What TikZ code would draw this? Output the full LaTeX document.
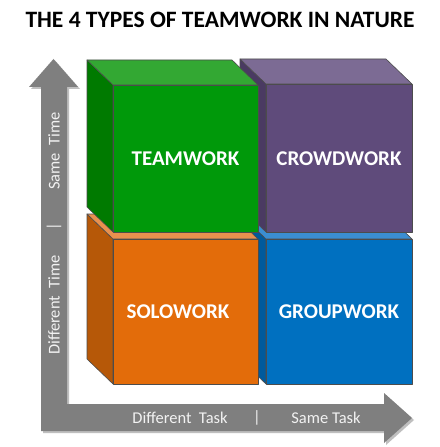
\documentclass[tikz,border=0pt]{standalone}
\usepackage{fontspec}
\setmainfont{Carlito}
\definecolor{axisgray}{HTML}{7F7F7F}
\definecolor{axistext}{HTML}{F2F2F2}
\definecolor{gfront}{HTML}{00990A}
\definecolor{gtop}{HTML}{33A833}
\definecolor{gside}{HTML}{007A00}
\definecolor{pfront}{HTML}{5F4B7B}
\definecolor{ptop}{HTML}{7C6B94}
\definecolor{pside}{HTML}{4A3A62}
\definecolor{ofront}{HTML}{E36C0A}
\definecolor{otop}{HTML}{E8914E}
\definecolor{oside}{HTML}{B65808}
\definecolor{bfront}{HTML}{0070C0}
\definecolor{btop}{HTML}{3B8ED2}
\definecolor{bside}{HTML}{005A9C}
\newcommand{\axfont}{\fontsize{16.5bp}{18bp}\selectfont}
\newcommand{\cubefont}{\fontsize{21bp}{24bp}\selectfont\bfseries}
\tikzset{
  edge/.style={draw=black!70, line width=0.6bp, line join=round},
  cubelabel/.style={text=white, font=\cubefont, inner sep=0},
  axislabel/.style={text=axistext, font=\axfont, inner sep=0},
}
\newcommand{\mycube}[7]{% x1 y1 x2 y2 front top side
  \fill[#7,edge] (#1-26,#2-25) -- (#1,#2) -- (#1,#4) -- (#1-26,#4-25) -- cycle;
  \fill[#6,edge] (#1-26,#2-25) -- (#3-26,#2-25) -- (#3,#2) -- (#1,#2) -- cycle;
  \fill[#5,edge] (#1,#2) rectangle (#3,#4);
}
\begin{document}
\begin{tikzpicture}[x=1bp,y=-1bp]
\useasboundingbox (0,0) rectangle (440,447);
\fill[white] (0,0) rectangle (440,447);
% title
\node[font=\fontsize{23.5bp}{26bp}\selectfont\bfseries, inner sep=0] (title) at (220,20) {THE 4 TYPES OF TEAMWORK IN NATURE};
% axes (L-shaped double arrow)
\fill[black!25] (43,433) -- (43,89) -- (31,89) -- (55.5,61) -- (80,89) -- (69,89) -- (69,406) -- (386,406) -- (386,395) -- (414,420) -- (386,445) -- (386,433) -- cycle;
\fill[axisgray] (41,431) -- (41,87) -- (29,87) -- (53.5,59) -- (78,87) -- (67,87) -- (67,404) -- (384,404) -- (384,393) -- (412,418) -- (384,443) -- (384,431) -- cycle;
% cubes (back to front)
\mycube{266}{239}{412}{384}{bfront}{btop}{bside}
\mycube{113}{239}{258}{384}{ofront}{otop}{oside}
\mycube{266}{84}{412}{232}{pfront}{ptop}{pside}
\mycube{113}{85}{258}{232}{gfront}{gtop}{gside}
% labels
\node[cubelabel] (team) at (185.5,158.5) {TEAMWORK};
\node[cubelabel] (crowd) at (339,158.5) {CROWDWORK};
\node[cubelabel] (solo) at (178,312) {SOLOWORK};
\node[cubelabel] (group) at (339,312) {GROUPWORK};
% axis labels
\node[axislabel, rotate=90] (stime) at (54,151) {Same\ \ Time};
\node[axislabel, rotate=90] (sep1) at (54,227) {|};
\node[axislabel, rotate=90] (dtime) at (54,305) {Different\ \ Time};
\node[axislabel] (dtask) at (180,418) {Different\ \ Task};
\node[axislabel] (sep2) at (257,418) {|};
\node[axislabel] (stask) at (326,418) {Same Task};
\end{tikzpicture}
\end{document}
